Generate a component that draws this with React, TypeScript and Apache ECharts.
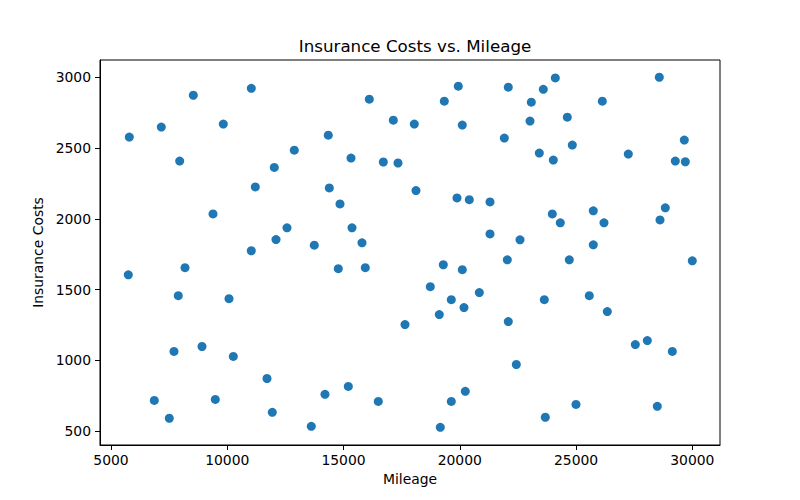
import React, { useEffect, useRef } from "react";
import * as echarts from "echarts";

const mileage: number[] = [
  5787, 7163, 8540, 7954, 9830, 11034, 12883, 12023, 11206, 9387,
  12569, 12096, 11034, 16109, 14345, 17141, 18044, 19334, 19936, 20108,
  22086, 21915, 15322, 16711, 17343, 14389, 14848, 18117, 19880, 20409,
  21300, 15365, 15795, 13743, 21300, 24108, 23592, 23076, 23020, 24624,
  26130, 28581, 24839, 23420, 24022, 27248, 29656, 29269, 29699, 23979,
  24323, 25742, 26202, 28839, 28611, 22590, 25742, 5744, 8183, 7894,
  10075, 7709, 8914, 10260, 11709, 6862, 9486, 7507, 11937, 13614,
  14775, 15937, 19291, 20108, 22044, 18732, 20840, 19635, 20181, 19119,
  17644, 22086, 22431, 15206, 14203, 16496, 19635, 20237, 19162, 24710,
  30000, 23635, 25570, 26345, 27549, 28065, 29140, 24998, 23678, 28495,
];

const insuranceCosts: number[] = [
  2577, 2648, 2873, 2408, 2669, 2922, 2485, 2363, 2225, 2034,
  1936, 1853, 1774, 2845, 2591, 2697, 2669, 2831, 2937, 2662,
  2930, 2570, 2429, 2401, 2394, 2218, 2105, 2199, 2147, 2135,
  2119, 1936, 1830, 1813, 1893, 2995, 2915, 2824, 2690, 2718,
  2831, 3000, 2521, 2464, 2415, 2457, 2556, 2408, 2403, 2034,
  1971, 2056, 1971, 2077, 1992, 1851, 1816, 1604, 1654, 1456,
  1435, 1062, 1097, 1027, 871, 716, 723, 590, 632, 533,
  1647, 1654, 1675, 1640, 1710, 1520, 1478, 1428, 1372, 1323,
  1252, 1273, 970, 815, 759, 709, 709, 780, 526, 1710,
  1703, 1428, 1456, 1344, 1111, 1139, 1062, 688, 597, 674,
];

const xTicks: number[] = [5000, 10000, 15000, 20000, 25000, 30000];
const yTicks: number[] = [500, 1000, 1500, 2000, 2500, 3000];

const FONT = "DejaVu Sans";

export default function App() {
  const ref = useRef<HTMLDivElement>(null);
  useEffect(() => {
    if (!ref.current) return;
    const chart = echarts.init(ref.current, undefined, { renderer: "svg" });
    const data = mileage.map((m, i) => [m, insuranceCosts[i]]);
    chart.setOption({
      animation: false,
      backgroundColor: "#ffffff",
      title: {
        text: "Insurance Costs vs. Mileage",
        left: 410,
        top: 32,
        textAlign: "center",
        textStyle: { fontFamily: FONT, fontSize: 16.7, fontWeight: "normal", color: "#000" },
      },
      grid: {
        left: 100,
        right: 80,
        top: 60,
        bottom: 55,
        show: true,
        borderColor: "#000",
        borderWidth: 1,
        backgroundColor: "transparent",
      },
      xAxis: {
        type: "value",
        min: 4527,
        max: 31191,
        name: "Mileage",
        nameLocation: "middle",
        nameGap: 27,
        nameTextStyle: { fontFamily: FONT, fontSize: 13.9, color: "#000" },
        axisLine: { show: true, lineStyle: { color: "#000", width: 1 } },
        axisTick: { show: true, inside: false, length: 5, customValues: xTicks, lineStyle: { color: "#000" } },
        axisLabel: {
          customValues: xTicks,
          formatter: (v: number) => String(v),
          margin: 8,
          fontFamily: FONT,
          fontSize: 13.9,
          color: "#000",
        },
        splitLine: { show: false },
      },
      yAxis: {
        type: "value",
        min: 401,
        max: 3122,
        name: "Insurance Costs",
        nameLocation: "middle",
        nameGap: 48,
        nameTextStyle: { fontFamily: FONT, fontSize: 13.9, color: "#000" },
        axisLine: { show: true, lineStyle: { color: "#000", width: 1 } },
        axisTick: { show: true, inside: false, length: 5, customValues: yTicks, lineStyle: { color: "#000" } },
        axisLabel: {
          customValues: yTicks,
          formatter: (v: number) => String(v),
          margin: 9,
          fontFamily: FONT,
          fontSize: 13.9,
          color: "#000",
        },
        splitLine: { show: false },
      },
      series: [
        {
          type: "scatter",
          data,
          symbol: "circle",
          symbolSize: 9,
          itemStyle: { color: "#1f77b4", opacity: 1 },
        },
      ],
    });
    return () => chart.dispose();
  }, []);
  return <div ref={ref} style={{ width: 800, height: 500, position: "absolute", left: 0, top: 0 }} />;
}
